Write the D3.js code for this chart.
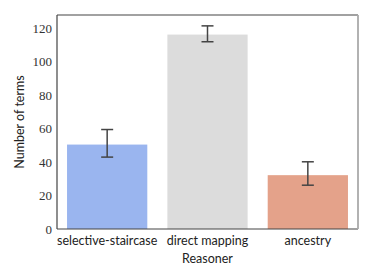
<!DOCTYPE html>
<html><head><meta charset="utf-8">
<script src="https://cdn.jsdelivr.net/npm/d3@7"></script>
<style>body{margin:0;background:#fff}</style>
</head><body>
<svg id="c" width="374" height="280"></svg>
<script>
const categories = ["selective-staircase", "direct mapping", "ancestry"];
const values = [50.5, 116.3, 32.2];
const errLow = [43.0, 112.0, 26.2];
const errHigh = [59.5, 121.5, 40.2];
const colors = ["#9ab5ef", "#dcdcdc", "#e4a28a"];
const yTicks = [0, 20, 40, 60, 80, 100, 120];

const svg = d3.select("#c");
const m = {l: 57, r: 16, t: 15, b: 51};
const W = 374, H = 280;
const x = d3.scaleBand().domain(categories).range([m.l, W - m.r]).paddingInner(0.2).paddingOuter(0.1);
const y = d3.scaleLinear().domain([0, 128]).range([H - m.b, m.t]);

const g = svg.append("g");
g.selectAll("rect.bar").data(categories).enter().append("rect")
  .attr("x", d => x(d)).attr("width", x.bandwidth())
  .attr("y", (d, i) => y(values[i])).attr("height", (d, i) => y(0) - y(values[i]))
  .attr("fill", (d, i) => colors[i]);

const eb = g.selectAll("g.err").data(categories).enter().append("g")
  .attr("stroke", "#444").attr("stroke-width", 1.5);
eb.append("line").attr("x1", d => x(d) + x.bandwidth()/2).attr("x2", d => x(d) + x.bandwidth()/2)
  .attr("y1", (d, i) => y(errLow[i])).attr("y2", (d, i) => y(errHigh[i]));
eb.append("line").attr("x1", d => x(d) + x.bandwidth()/2 - 6).attr("x2", d => x(d) + x.bandwidth()/2 + 6)
  .attr("y1", (d, i) => y(errLow[i])).attr("y2", (d, i) => y(errLow[i]));
eb.append("line").attr("x1", d => x(d) + x.bandwidth()/2 - 6).attr("x2", d => x(d) + x.bandwidth()/2 + 6)
  .attr("y1", (d, i) => y(errHigh[i])).attr("y2", (d, i) => y(errHigh[i]));

// spines
svg.append("line").attr("x1", m.l).attr("x2", W - m.r).attr("y1", m.t).attr("y2", m.t).attr("stroke", "#444").attr("stroke-width", 1.2);
svg.append("line").attr("x1", m.l).attr("x2", W - m.r).attr("y1", H - m.b).attr("y2", H - m.b).attr("stroke", "#444").attr("stroke-width", 1.2);
svg.append("line").attr("x1", m.l).attr("x2", m.l).attr("y1", m.t).attr("y2", H - m.b).attr("stroke", "#444").attr("stroke-width", 1.2);
svg.append("line").attr("x1", W - m.r).attr("x2", W - m.r).attr("y1", m.t).attr("y2", H - m.b).attr("stroke", "#aaa").attr("stroke-width", 1.8);

// y axis
const ya = svg.append("g").attr("transform", `translate(${m.l},0)`)
  .call(d3.axisLeft(y).tickValues(yTicks).tickSize(0).tickPadding(5));
ya.select(".domain").remove();
ya.selectAll("text").attr("font-family", "'Liberation Serif', serif").attr("font-size", 13).attr("fill", "#333");

// x axis
const xa = svg.append("g").attr("transform", `translate(0,${H - m.b})`)
  .call(d3.axisBottom(x).tickSize(0).tickPadding(7));
xa.select(".domain").remove();
xa.selectAll("text").attr("font-family", "Lato, 'Open Sans', sans-serif").attr("font-size", 12.5).attr("fill", "#222");

svg.append("text").attr("x", (m.l + W - m.r)/2).attr("y", 263).attr("text-anchor", "middle")
  .attr("font-family", "Lato, 'Open Sans', sans-serif").attr("font-size", 12.5).attr("fill", "#222").text("Reasoner");
svg.append("text").attr("transform", `translate(24,${(m.t + H - m.b)/2}) rotate(-90)`).attr("text-anchor", "middle")
  .attr("font-family", "Lato, 'Open Sans', sans-serif").attr("font-size", 12.5).attr("fill", "#222").text("Number of terms");
</script>
</body></html>
